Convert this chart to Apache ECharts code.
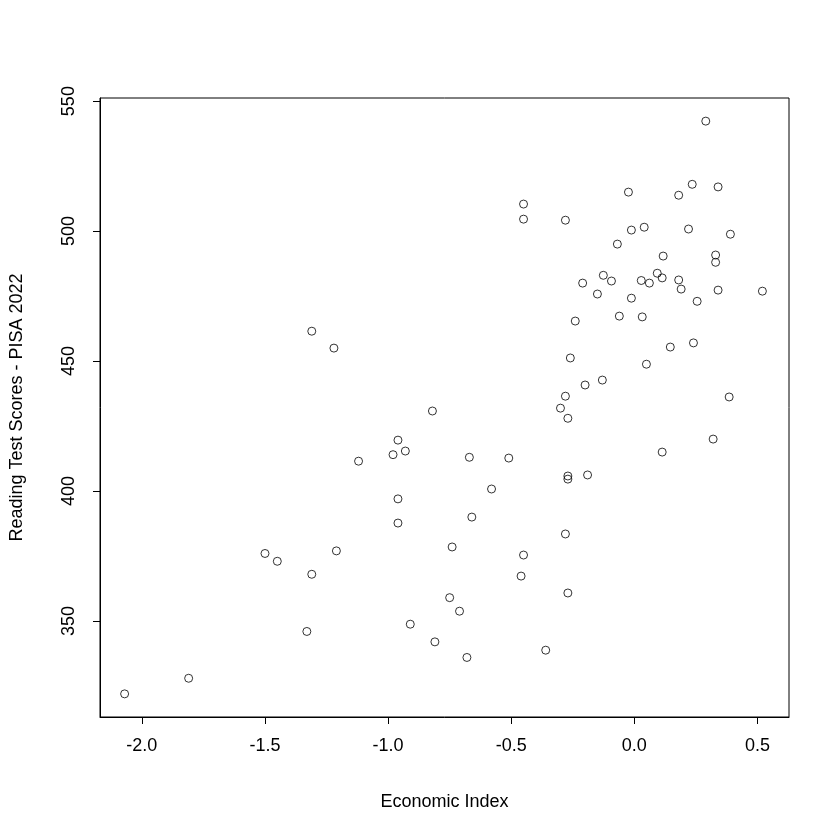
<!DOCTYPE html>
<html>
<head>
<meta charset="utf-8">
<script src="https://cdn.jsdelivr.net/npm/echarts@6/dist/echarts.min.js"></script>
<style>html,body{margin:0;padding:0;background:#fff}#main{width:840px;height:840px}</style>
</head>
<body>
<div id="main"></div>
<script>
// 经济指数 与 阅读成绩
var economicIndex = [-2.07,-1.81,-1.50,-1.45,-1.33,-1.31,-1.31,-1.22,-1.21,-1.12,-0.98,-0.96,-0.96,-0.96,-0.93,-0.91,-0.82,-0.81,-0.75,-0.74,
  -0.71,-0.68,-0.67,-0.66,-0.58,-0.51,-0.46,-0.45,-0.45,-0.45,-0.36,-0.30,-0.28,-0.28,-0.28,-0.27,-0.27,-0.27,-0.27,-0.26,
  -0.24,-0.19,-0.21,-0.20,-0.15,-0.13,-0.126,-0.093,-0.069,-0.061,-0.024,-0.012,-0.012,0.028,0.032,0.04,0.049,0.061,0.093,0.113,
  0.117,0.113,0.146,0.18,0.18,0.19,0.22,0.235,0.24,0.255,0.29,0.32,0.33,0.33,0.34,0.34,0.385,0.39,0.52];
var readingScore = [322,328,376,373,346,368,461.5,455,377,411.5,414,419.6,397,387.7,415.4,348.8,430.8,342,359,378.5,
  353.8,336,413,390,400.8,412.7,367.3,375.4,510.4,504.6,338.8,431.9,436.5,383.5,504.2,428,405.8,404.6,360.8,451.2,
  465.4,406.2,480,440.8,475.8,442.7,483,480.8,495,467.3,515,500.4,474.2,481,467,501.5,448.8,480,483.8,482,
  490.4,415,455.4,513.8,481.2,477.7,500.8,518,457,473,542.3,420,490.8,488,517,477.3,436.2,498.8,476.9];
var xTicks = [-2.0,-1.5,-1.0,-0.5,0.0,0.5];
var yTicks = [350,400,450,500,550];

var points = [];
for (var i = 0; i < economicIndex.length; i++) {
    points.push([economicIndex[i], readingScore[i]]);
}

var chart = echarts.init(document.getElementById("main"));
var font = 'Liberation Sans, Arial, sans-serif';
var option = {
    animation: false,
    grid: {left: 98, right: 51, top: 98, bottom: 123, show: true, borderColor: '#000', borderWidth: 1},
    xAxis: {
        type: 'value', min: -2.17, max: 0.628,
        name: 'Economic Index', nameLocation: 'middle', nameGap: 76,
        nameTextStyle: {color: '#000', fontSize: 18, fontFamily: font},
        splitLine: {show: false},
        axisLine: {show: true, onZero: false, lineStyle: {color: '#000'}},
        axisTick: {show: true, length: 7, lineStyle: {color: '#000'}, customValues: xTicks},
        axisLabel: {color: '#000', fontSize: 18, fontFamily: font, margin: 20, customValues: xTicks,
            formatter: function (v) { return v.toFixed(1); }}
    },
    yAxis: {
        type: 'value', min: 313.1, max: 551.2,
        name: 'Reading Test Scores - PISA 2022', nameLocation: 'middle', nameGap: 74,
        nameTextStyle: {color: '#000', fontSize: 18, fontFamily: font},
        splitLine: {show: false},
        axisLine: {show: true, onZero: false, lineStyle: {color: '#000'}},
        axisTick: {show: true, length: 7, lineStyle: {color: '#000'}, customValues: yTicks},
        axisLabel: {color: '#000', fontSize: 18, fontFamily: font, margin: 22, rotate: 90, customValues: yTicks}
    },
    series: [{
        type: 'scatter',
        data: points,
        symbol: 'circle',
        symbolSize: 8,
        itemStyle: {color: 'rgba(0,0,0,0)', borderColor: '#000', borderWidth: 1}
    }]
};
chart.setOption(option);
</script>
</body>
</html>
